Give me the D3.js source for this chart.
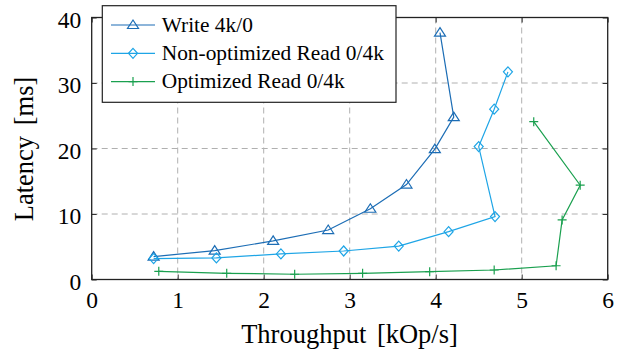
<!DOCTYPE html>
<html>
<head>
<meta charset="utf-8">
<script src="https://cdn.jsdelivr.net/npm/d3@7"></script>
<style>
  body { margin: 0; background: #fff; }
  svg text { font-family: "Liberation Serif", "Times New Roman", serif; fill: #000; }
</style>
</head>
<body>
<div id="chart"></div>
<script>
// data
const writeX = [0.72, 1.43, 2.11, 2.75, 3.24, 3.66, 3.99, 4.21, 4.05];
const writeY = [3.5, 4.4, 5.9, 7.55, 10.8, 14.5, 19.9, 24.8, 37.7];
const nonOptX = [0.72, 1.45, 2.2, 2.93, 3.57, 4.15, 4.69, 4.5, 4.68, 4.84];
const nonOptY = [3.2, 3.3, 3.9, 4.35, 5.1, 7.3, 9.6, 20.3, 26.0, 31.7];
const optX = [0.78, 1.57, 2.36, 3.15, 3.93, 4.68, 5.4, 5.47, 5.68, 5.14];
const optY = [1.25, 0.95, 0.8, 0.95, 1.2, 1.45, 2.1, 9.1, 14.4, 24.1];
const xTicks = [0, 1, 2, 3, 4, 5, 6];
const yTicks = [0, 10, 20, 30, 40];
const seriesNames = ['Write 4k/0', 'Non-optimized Read 0/4k', 'Optimized Read 0/4k'];

const W = 631, H = 354;
const margin = { top: 17.5, right: 23.3, bottom: 74.5, left: 91.7 };
const width = W - margin.left - margin.right;
const height = H - margin.top - margin.bottom;

const svg = d3.select('#chart').append('svg')
  .attr('width', W).attr('height', H);
const g = svg.append('g')
  .attr('transform', 'translate(' + margin.left + ',' + margin.top + ')');

const x = d3.scaleLinear().domain([0, 6]).range([0, width]);
const y = d3.scaleLinear().domain([0, 40]).range([height, 0]);

// grid
g.selectAll('line.gx').data(xTicks.slice(1, -1)).enter().append('line')
  .attr('x1', d => x(d)).attr('x2', d => x(d))
  .attr('y1', 0).attr('y2', height)
  .attr('stroke', '#b0b0b0').attr('stroke-width', 1).attr('stroke-dasharray', '6,4');
g.selectAll('line.gy').data(yTicks.slice(1, -1)).enter().append('line')
  .attr('y1', d => y(d)).attr('y2', d => y(d))
  .attr('x1', 0).attr('x2', width)
  .attr('stroke', '#b0b0b0').attr('stroke-width', 1).attr('stroke-dasharray', '6,4');

// axes (pgfplots style: ticks inside, on all four sides)
const tick = 5;
const fmt = d3.format('d');
const xAxisG = g.append('g').attr('transform', 'translate(0,' + height + ')')
  .call(d3.axisBottom(x).tickValues(xTicks).tickFormat(fmt).tickSizeInner(-tick).tickSizeOuter(0).tickPadding(12));
const yAxisG = g.append('g')
  .call(d3.axisLeft(y).tickValues(yTicks).tickFormat(fmt).tickSizeInner(-tick).tickSizeOuter(0).tickPadding(10.5));
g.append('g')
  .call(d3.axisTop(x).tickValues(xTicks).tickSizeInner(-tick).tickSizeOuter(0).tickFormat(''));
g.append('g').attr('transform', 'translate(' + width + ',0)')
  .call(d3.axisRight(y).tickValues(yTicks).tickSizeInner(-tick).tickSizeOuter(0).tickFormat(''));
g.selectAll('.domain').remove();
g.selectAll('.tick line').attr('stroke', '#333');
g.selectAll('.tick text')
  .style('font-family', '"Liberation Serif", serif')
  .style('font-size', '23.5px')
  .style('fill', '#000');
yAxisG.selectAll('.tick text').attr('dy', '0.42em');
g.append('rect').attr('width', width).attr('height', height)
  .attr('fill', 'none').attr('stroke', '#222').attr('stroke-width', 1.3);

// axis titles
svg.append('text').attr('x', 349.5).attr('y', 343)
  .attr('text-anchor', 'middle').style('font-size', '26.5px').style('word-spacing', '4px')
  .text('Throughput [kOp/s]');
svg.append('text').attr('transform', 'translate(33,149) rotate(-90)')
  .attr('text-anchor', 'middle').style('font-size', '26.5px').style('word-spacing', '4px')
  .text('Latency [ms]');

const colors = ['#1c6db5', '#1ea5e6', '#1aa04f'];
const line = d3.line().x(d => x(d[0])).y(d => y(d[1]));

function marker(sel, type, color) {
  if (type === 0) {
    sel.append('path').attr('d', 'M0,-5L5.5,3.5L-5.5,3.5Z')
      .attr('fill', 'none').attr('stroke', color).attr('stroke-width', 1.2);
  } else if (type === 1) {
    sel.append('path').attr('d', 'M0,-5L4.5,0L0,5L-4.5,0Z')
      .attr('fill', 'none').attr('stroke', color).attr('stroke-width', 1.2);
  } else {
    sel.append('path').attr('d', 'M0,-4.5V4.5M-4.5,0H4.5')
      .attr('fill', 'none').attr('stroke', color).attr('stroke-width', 1.2);
  }
}

const series = [
  d3.zip(writeX, writeY),
  d3.zip(nonOptX, nonOptY),
  d3.zip(optX, optY)
];

series.forEach(function (pts, i) {
  g.append('path').datum(pts)
    .attr('d', line).attr('fill', 'none')
    .attr('stroke', colors[i]).attr('stroke-width', 1.2);
  g.selectAll('g.m' + i).data(pts).enter().append('g')
    .attr('transform', d => 'translate(' + x(d[0]) + ',' + y(d[1]) + ')')
    .each(function () { marker(d3.select(this), i, colors[i]); });
});

// legend
const lg = svg.append('g');
lg.append('rect').attr('x', 102.3).attr('y', 5.7).attr('width', 293.7).attr('height', 96.6)
  .attr('fill', '#fff').attr('stroke', '#222').attr('stroke-width', 1.2);
seriesNames.forEach(function (name, i) {
  const ly = 25 + i * 28.3;
  lg.append('line').attr('x1', 111).attr('x2', 155).attr('y1', ly).attr('y2', ly)
    .attr('stroke', colors[i]).attr('stroke-width', 1.2);
  const mg = lg.append('g').attr('transform', 'translate(133,' + ly + ')');
  marker(mg, i, colors[i]);
  lg.append('text').attr('x', 161.7).attr('y', ly + 6.5)
    .style('font-size', '21.4px').text(name);
});
</script>
</body>
</html>
